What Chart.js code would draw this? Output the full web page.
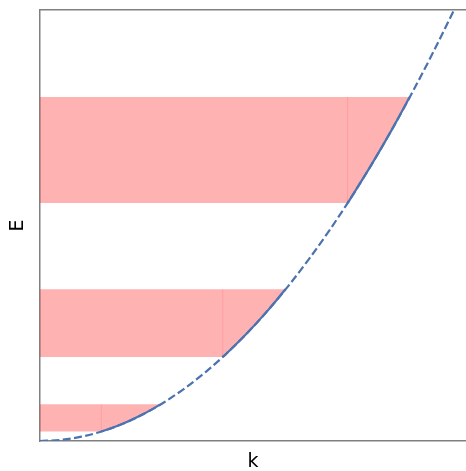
<!DOCTYPE html>
<html>
<head>
<meta charset="utf-8">
<script src="https://cdn.jsdelivr.net/npm/chart.js@4.4.1/dist/chart.umd.min.js"></script>
<style>
  html, body { margin: 0; padding: 0; background: #fff; }
  #wrap { width: 466px; height: 471px; }
</style>
</head>
<body>
<div id="wrap"><canvas id="myChart" width="466" height="471"></canvas></div>
<script>
'use strict';

// dispersion curve, read point by point
let curveK = [0, 0.05, 0.1, 0.15, 0.2, 0.25, 0.3, 0.35, 0.4, 0.45, 0.5, 0.55, 0.6, 0.65, 0.7, 0.75, 0.8, 0.85, 0.9, 0.95, 1.0, 1.03];
let curveE = [0, 0.0025, 0.01, 0.0225, 0.04, 0.0625, 0.09, 0.1225, 0.16, 0.2025, 0.25, 0.3025, 0.36, 0.4225, 0.49, 0.5625, 0.64, 0.7225, 0.81, 0.9025, 1.0, 1.061];

// filled energy windows
let bandLowE = [0.022, 0.195, 0.552];
let bandHighE = [0.085, 0.352, 0.798];
let bandLowK = [0.148, 0.4416, 0.743];
let bandHighK = [0.2915, 0.593, 0.893];

let kMax = 1.029;
let eMax = 1;

let blue = '#4c72b0';

function curvePoints() {
  let pts = [];
  for (let i = 0; i < curveK.length; i++) {
    pts.push({ x: curveK[i], y: curveE[i] });
  }
  return pts;
}

function curveBetween(k0, e0, k1, e1) {
  let pts = [{ x: k0, y: e0 }];
  for (let i = 0; i < curveK.length; i++) {
    if (curveK[i] > k0 && curveK[i] < k1) pts.push({ x: curveK[i], y: curveE[i] });
  }
  pts.push({ x: k1, y: e1 });
  return pts;
}

let datasets = [];

// dashed full curve
datasets.push({
  data: curvePoints(),
  borderColor: blue,
  borderWidth: 2.2,
  borderDash: [8, 3.4],
  cubicInterpolationMode: 'monotone',
  pointRadius: 0,
  fill: false,
  order: 1
});

for (let i = 0; i < bandLowE.length; i++) {
  let seg = curveBetween(bandLowK[i], bandLowE[i], bandHighK[i], bandHighE[i]);

  // solid piece of the curve inside the window
  datasets.push({
    data: seg,
    borderColor: blue,
    borderWidth: 2.2,
    cubicInterpolationMode: 'monotone',
    pointRadius: 0,
    fill: false,
    order: 0
  });

  // shaded area left of the curve
  let shape = [{ x: 0, y: bandLowE[i] }].concat(seg).concat([{ x: 0, y: bandHighE[i] }]);
  datasets.push({
    data: shape,
    borderWidth: 0,
    borderColor: 'rgba(0,0,0,0)',
    backgroundColor: 'rgba(255,0,0,0.3)',
    pointRadius: 0,
    tension: 0,
    fill: 'shape',
    order: 3
  });

  // edge of the rectangle part
  datasets.push({
    data: [{ x: bandLowK[i], y: bandLowE[i] }, { x: bandLowK[i], y: bandHighE[i] }],
    borderColor: 'rgba(255,0,0,0.12)',
    borderWidth: 1,
    pointRadius: 0,
    fill: false,
    order: 2
  });
}

let ctx = document.getElementById('myChart').getContext('2d');

let chart = new Chart(ctx, {
  type: 'line',
  data: { datasets: datasets },
  options: {
    responsive: false,
    animation: false,
    layout: { padding: { top: 10, right: 0, left: 0, bottom: 0 } },
    plugins: { legend: { display: false }, tooltip: { enabled: false } },
    scales: {
      x: {
        type: 'linear',
        min: 0,
        max: kMax,
        grid: { display: false },
        ticks: { display: false },
        border: { display: true, color: '#808080', width: 1.5 },
        title: {
          display: true,
          text: 'k',
          color: '#000',
          font: { family: 'DejaVu Sans', size: 19 },
          padding: { top: 0, bottom: -2.5 }
        },
        afterFit: function (scale) { scale.height = 30; }
      },
      y: {
        type: 'linear',
        min: 0,
        max: eMax,
        grid: { display: false },
        ticks: { display: false },
        border: { display: true, color: '#808080', width: 1.5 },
        title: {
          display: true,
          text: 'E',
          color: '#000',
          font: { family: 'DejaVu Sans', size: 19 },
          padding: { top: 7, bottom: 0 }
        },
        afterFit: function (scale) { scale.width = 40; }
      },
      x2: {
        type: 'linear',
        position: 'top',
        min: 0,
        max: kMax,
        grid: { display: false },
        ticks: { display: false },
        border: { display: true, color: '#808080', width: 1.5 },
        afterFit: function (scale) { scale.height = 0; }
      }
    }
  }
});
</script>
</body>
</html>
